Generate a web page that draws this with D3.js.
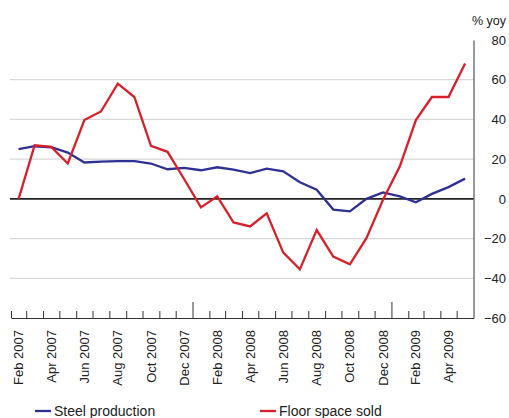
<!DOCTYPE html>
<html>
<head>
<meta charset="utf-8">
<script src="https://cdn.jsdelivr.net/npm/d3@7"></script>
<style>
  html, body { margin: 0; padding: 0; background: #fff; }
  svg { display: block; font-family: "Liberation Sans", Arial, sans-serif; }
</style>
</head>
<body>
<svg id="chart" width="509" height="418"></svg>
<script>
// Monthly, Feb 2007 .. May 2009
const months = ['2007-02', '2007-03', '2007-04', '2007-05', '2007-06', '2007-07', '2007-08', '2007-09', '2007-10', '2007-11', '2007-12',
  '2008-01', '2008-02', '2008-03', '2008-04', '2008-05', '2008-06', '2008-07', '2008-08', '2008-09', '2008-10', '2008-11', '2008-12',
  '2009-01', '2009-02', '2009-03', '2009-04', '2009-05'];
const steelProduction = [25, 26.5, 26, 23.3, 18.3, 18.8, 19, 19, 17.8, 14.9, 15.6, 14.4, 15.9, 14.7, 13, 15.2, 13.9, 8.4, 4.6, -5.4, -6.3, 0, 3.2, 1.2, -1.7, 2.5, 5.9, 10.2];
const floorSpaceSold = [0, 27, 26.2, 17.8, 39.7, 44, 58, 51.3, 26.7, 23.7, 10, -4.3, 1.3, -11.9, -13.9, -7.3, -27.1, -35.5, -15.7, -29.1, -33, -19.8, -0.5, 16.4, 39.7, 51.3, 51.3, 68.2];
const yTicks = [-60, -40, -20, 0, 20, 40, 60, 80];
const series = [
  { name: 'Steel production', values: steelProduction, color: '#2e3192' },
  { name: 'Floor space sold', values: floorSpaceSold, color: '#d7202a' }
];

const parse = d3.timeParse('%Y-%m');
const dates = months.map(parse);
const svg = d3.select('#chart');
const plotLeft = 11, plotRight = 473.5, plotTop = 40, plotBottom = 318;

const x = d3.scaleTime().domain([dates[0], d3.timeMonth.offset(dates[dates.length - 1], 1)]).range([plotLeft, plotRight]);
const y = d3.scaleLinear().domain([-60, 80]).range([plotBottom, plotTop]);
const mid = (d) => (x(d) + x(d3.timeMonth.offset(d, 1))) / 2;

// gridlines
svg.append('g')
  .selectAll('line')
  .data(yTicks.filter((v) => v !== 0 && v !== -60 && v !== 80))
  .join('line')
  .attr('x1', plotLeft - 1).attr('x2', plotRight)
  .attr('y1', (d) => y(d)).attr('y2', (d) => y(d))
  .attr('stroke', '#d9d9d9').attr('stroke-width', 1.2);

// right axis
const yAxis = svg.append('g').attr('transform', `translate(${plotRight},0)`)
  .call(d3.axisRight(y).tickValues(yTicks).tickSize(0).tickPadding(0));
yAxis.select('.domain').attr('stroke', '#333').attr('stroke-width', 1);
yAxis.selectAll('text').attr('x', 506 - plotRight).attr('text-anchor', 'end')
  .attr('font-size', 13).attr('fill', '#222').attr('font-family', '"Liberation Sans", Arial, sans-serif');
svg.append('text').attr('x', 506).attr('y', 25).attr('text-anchor', 'end')
  .attr('font-size', 12.5).attr('fill', '#222').text('% yoy');

// bottom axis with month ticks
const tickDates = d3.timeMonth.range(dates[0], d3.timeMonth.offset(dates[dates.length - 1], 1));
const xAxis = svg.append('g').attr('transform', `translate(0,${plotBottom})`)
  .call(d3.axisBottom(x).tickValues(tickDates).tickSizeOuter(0).tickSizeInner(0).tickFormat(''));
xAxis.select('.domain').attr('stroke', '#333').attr('stroke-width', 1);
xAxis.selectAll('.tick line')
  .attr('y2', (d) => (d.getMonth() === 0 ? -16 : -7))
  .attr('stroke', '#333').attr('stroke-width', 1);

// rotated month labels
svg.append('g')
  .selectAll('text')
  .data(dates.filter((d, i) => i % 2 === 0 && i < 27))
  .join('text')
  .attr('transform', (d) => `translate(${mid(d)},330) rotate(-90)`)
  .attr('text-anchor', 'end').attr('dy', '0.35em')
  .attr('font-size', 13).attr('fill', '#222')
  .text(d3.timeFormat('%b %Y'));

// zero line
svg.append('line')
  .attr('x1', plotLeft - 1).attr('x2', plotRight)
  .attr('y1', y(0)).attr('y2', y(0))
  .attr('stroke', '#222').attr('stroke-width', 1.6);

// lines
const line = d3.line().x((d, i) => mid(dates[i])).y((d) => y(d));
svg.append('g')
  .selectAll('path')
  .data(series)
  .join('path')
  .attr('d', (s) => line(s.values))
  .attr('fill', 'none')
  .attr('stroke', (s) => s.color)
  .attr('stroke-width', 2.3)
  .attr('stroke-linejoin', 'miter');

// legend
const legendX = [35, 260];
const legend = svg.append('g')
  .selectAll('g')
  .data(series)
  .join('g')
  .attr('transform', (s, i) => `translate(${legendX[i]},411)`);
legend.append('line').attr('x1', 0).attr('x2', 16).attr('stroke', (s) => s.color).attr('stroke-width', 2.3);
legend.append('text').attr('x', 19).attr('dy', '0.35em')
  .attr('font-size', 14).attr('fill', '#222').text((s) => s.name);
</script>
</body>
</html>
